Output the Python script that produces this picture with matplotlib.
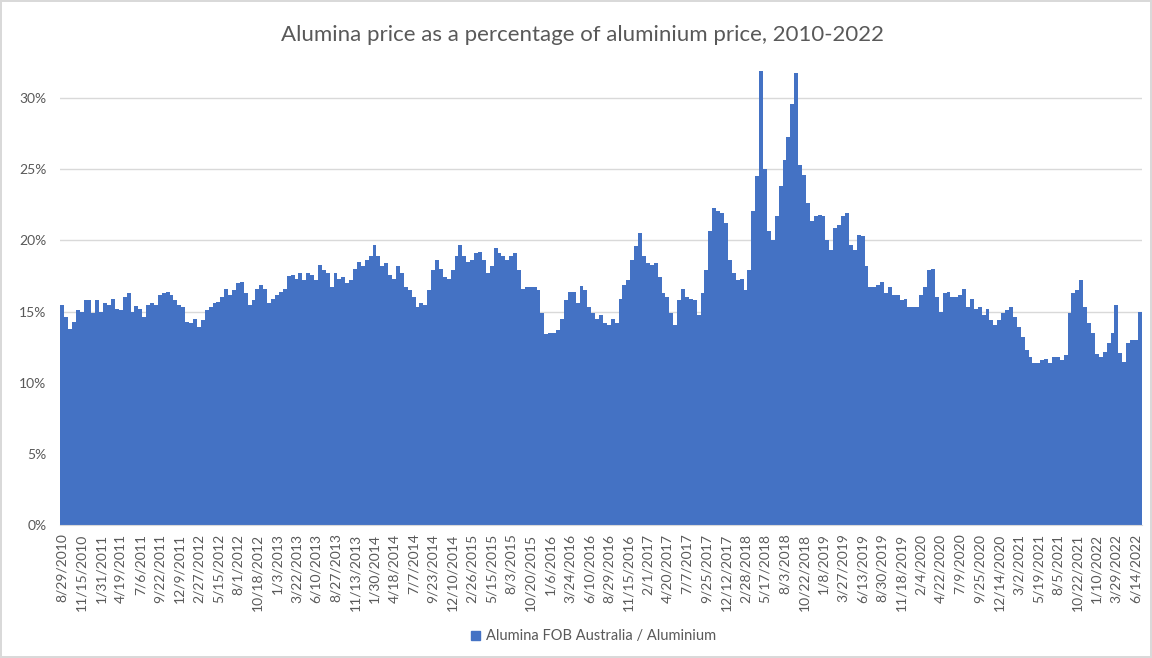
"""Alumina price as a share of aluminium price, 2010-2022 (Excel-style column chart)."""
import numpy as np
import matplotlib
matplotlib.use("Agg")
import matplotlib.pyplot as plt
from matplotlib.patches import Patch

plt.rcParams["font.family"] = ["Lato", "DejaVu Sans"]

# ratio (%), one value per ~1/5 of a label interval
ratio = [
    15.5, 14.65, 13.8, 14.3, 15.1, 15.0, 15.8, 15.8, 14.9, 15.8,
    15.0, 15.6, 15.5, 15.9, 15.2, 15.1, 16.0, 16.3, 15.0, 15.4,
    15.2, 14.65, 15.5, 15.6, 15.5, 16.2, 16.3, 16.4, 16.2, 15.8,
    15.5, 15.35, 14.3, 14.2, 14.5, 13.95, 14.4, 15.1, 15.35, 15.6,
    15.7, 16.05, 16.6, 16.2, 16.5, 17.0, 17.1, 16.3, 15.5, 15.8,
    16.6, 16.9, 16.6, 15.6, 15.9, 16.2, 16.4, 16.6, 17.5, 17.6,
    17.3, 17.7, 17.2, 17.7, 17.6, 17.2, 18.3, 17.9, 17.7, 16.75,
    17.7, 17.3, 17.45, 17.0, 17.2, 18.0, 18.5, 18.2, 18.6, 18.9,
    19.7, 18.9, 18.2, 18.4, 17.6, 17.3, 18.2, 17.7, 16.75, 16.5,
    16.05, 15.35, 15.6, 15.5, 16.5, 17.9, 18.6, 18.0, 17.45, 17.3,
    17.9, 18.9, 19.7, 18.9, 18.5, 18.6, 19.1, 19.2, 18.6, 17.7,
    18.2, 19.45, 19.1, 18.9, 18.6, 18.9, 19.1, 17.9, 16.6, 16.75,
    16.75, 16.75, 16.5, 14.9, 13.4, 13.5, 13.5, 13.7, 14.5, 15.8,
    16.4, 16.4, 15.6, 16.8, 16.5, 15.35, 14.9, 14.5, 14.75, 14.2,
    14.1, 14.5, 14.2, 15.9, 16.9, 17.2, 18.6, 19.6, 20.5, 18.9,
    18.4, 18.3, 18.4, 17.45, 16.3, 16.05, 14.9, 14.1, 15.8, 16.6,
    16.05, 15.9, 15.8, 14.75, 16.3, 17.9, 20.7, 22.3, 22.1, 21.95,
    21.2, 18.6, 17.7, 17.2, 17.3, 16.5, 17.9, 22.1, 24.5, 31.9,
    25.0, 20.7, 20.0, 21.7, 23.8, 25.65, 27.3, 29.6, 31.75, 25.3,
    24.6, 22.6, 21.4, 21.7, 21.8, 21.7, 20.0, 19.3, 20.85, 21.1,
    21.7, 21.9, 19.7, 19.3, 20.4, 20.3, 18.2, 16.75, 16.75, 16.9,
    17.1, 16.3, 16.75, 16.2, 16.2, 15.8, 15.9, 15.35, 15.35, 15.35,
    16.2, 16.75, 17.9, 18.0, 16.05, 15.0, 16.3, 16.4, 16.05, 16.05,
    16.2, 16.6, 15.35, 15.9, 15.2, 15.35, 14.75, 15.2, 14.4, 14.1,
    14.4, 14.9, 15.1, 15.35, 14.65, 13.95, 13.25, 12.3, 11.85, 11.4,
    11.4, 11.6, 11.7, 11.4, 11.85, 11.85, 11.6, 11.95, 14.9, 16.3,
    16.5, 17.2, 15.35, 14.2, 13.5, 12.0, 11.85, 12.2, 12.8, 13.5,
    15.5, 12.1, 11.5, 12.8, 13.0, 13.0, 15.0,
]

date_labels = [
    "8/29/2010", "11/15/2010", "1/31/2011", "4/19/2011", "7/6/2011",
    "9/22/2011", "12/9/2011", "2/27/2012", "5/15/2012", "8/1/2012",
    "10/18/2012", "1/3/2013", "3/22/2013", "6/10/2013", "8/27/2013",
    "11/13/2013", "1/30/2014", "4/18/2014", "7/7/2014", "9/23/2014",
    "12/10/2014", "2/26/2015", "5/15/2015", "8/3/2015", "10/20/2015",
    "1/6/2016", "3/24/2016", "6/10/2016", "8/29/2016", "11/15/2016",
    "2/1/2017", "4/20/2017", "7/7/2017", "9/25/2017", "12/12/2017",
    "2/28/2018", "5/17/2018", "8/3/2018", "10/22/2018", "1/8/2019",
    "3/27/2019", "6/13/2019", "8/30/2019", "11/18/2019", "2/4/2020",
    "4/22/2020", "7/9/2020", "9/25/2020", "12/14/2020", "3/2/2021",
    "5/19/2021", "8/5/2021", "10/22/2021", "1/10/2022", "3/29/2022",
    "6/14/2022",
]
label_step = 5

BLUE = "#4472C4"
GREY = "#595959"

vals = np.array(ratio) / 100.0
n = len(vals)
edges = np.arange(n + 1) - 0.5

fig = plt.figure(figsize=(11.52, 6.58), dpi=100)
fig.patch.set_edgecolor("#D9D9D9")
fig.patch.set_linewidth(1.5)
ax = fig.add_axes([0.0523, 0.2017, 0.9388, 0.6925])

ax.stairs(vals, edges, fill=True, color=BLUE, linewidth=0)

ax.set_xlim(-0.5, n - 0.5)
ax.set_ylim(0, 0.32)
ax.set_yticks(np.arange(0, 0.31, 0.05))
ax.set_yticklabels([f"{int(round(t * 100))}%" for t in np.arange(0, 0.31, 0.05)])
ax.yaxis.grid(True, color="#D9D9D9", lw=1)
ax.set_axisbelow(True)

ticks = np.arange(len(date_labels)) * label_step
ax.set_xticks(ticks)
ax.set_xticklabels(date_labels, rotation=90, fontsize=10, color=GREY)
ax.tick_params(axis="x", length=0, pad=6)
ax.tick_params(axis="y", length=0, pad=10, labelsize=10, labelcolor=GREY)
for s in ("top", "right", "left"):
    ax.spines[s].set_visible(False)
ax.spines["bottom"].set_color("#D9D9D9")

fig.suptitle("Alumina price as a percentage of aluminium price, 2010-2022",
             x=0.506, y=0.962, fontsize=16, color=GREY)

fig.legend(handles=[Patch(color=BLUE, label="Alumina FOB Australia / Aluminium")],
           loc="center", bbox_to_anchor=(0.515, 0.033), frameon=False,
           fontsize=10.5, labelcolor=GREY, handlelength=0.6, handleheight=0.6,
           handletextpad=0.4)

fig.savefig("out.png", dpi=100)
